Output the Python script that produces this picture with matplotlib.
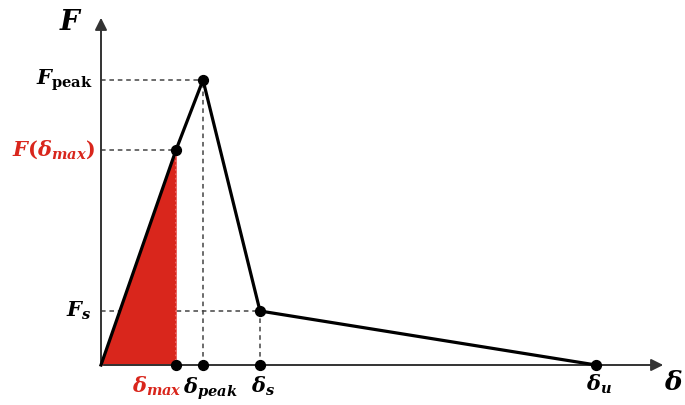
import matplotlib.pyplot as plt

plt.rcParams['mathtext.fontset'] = 'custom'
plt.rcParams['mathtext.it'] = 'DejaVu Serif:italic:bold'
plt.rcParams['mathtext.rm'] = 'DejaVu Serif:bold'
plt.rcParams['mathtext.bf'] = 'DejaVu Serif:bold'

# displacement / force points of the curve (arbitrary units)
delta = [0, 75, 102, 159, 495]
force = [0, 215, 285, 54, 0]
d_max, d_peak, d_s, d_u = delta[1], delta[2], delta[3], delta[4]
f_max, f_peak, f_s = force[1], force[2], force[3]

red = '#d9261c'

fig = plt.figure(figsize=(6.85, 4.05), dpi=100)
ax = fig.add_axes([0, 0, 1, 1])
ax.set_xlim(-101, 584)
ax.set_ylim(-40, 365)
ax.axis('off')

# axes with arrows
ax.annotate('', xy=(565, 0), xytext=(0, 0),
            arrowprops=dict(arrowstyle='-|>', color='#333333', lw=1.4, mutation_scale=18))
ax.annotate('', xy=(0, 350), xytext=(0, 0),
            arrowprops=dict(arrowstyle='-|>', color='#333333', lw=1.4, mutation_scale=18))

# red area up to delta_max
ax.fill([0, d_max, d_max], [0, f_max, 0], color=red, zorder=2)
ax.plot([d_max, d_max], [0, f_max], color='#f07070', ls=':', lw=1.2, zorder=3)

# dashed guides
dash = dict(color='#444444', ls='--', lw=1.1, dashes=(3, 2.5), zorder=1)
ax.plot([0, d_peak], [f_peak, f_peak], **dash)
ax.plot([0, d_max], [f_max, f_max], **dash)
ax.plot([0, d_s], [f_s, f_s], **dash)
ax.plot([d_peak, d_peak], [0, f_peak], **dash)
ax.plot([d_s, d_s], [0, f_s], **dash)

# curve
ax.plot(delta, force, color='black', lw=2.3, zorder=4)
ax.scatter(delta[1:4], force[1:4], s=50, color='black', zorder=5)
ax.scatter([d_max, d_peak, d_s, d_u], [0, 0, 0, 0], s=50, color='black', zorder=5)

# labels
ax.text(-30, 343, r'$F$', fontsize=20, ha='center', va='center')
ax.text(-8, f_peak, r'$F_{\mathrm{peak}}$', fontsize=15, ha='right', va='center')
ax.text(-6, f_max, r'$F(\delta_{max})$', fontsize=15, ha='right', va='center', color=red)
ax.text(-10, f_s, r'$F_{s}$', fontsize=15, ha='right', va='center')
ax.text(d_max + 6, -10, r'$\delta_{max}$', fontsize=15, ha='right', va='top', color=red)
ax.text(d_max + 7, -10, r'$\delta_{peak}$', fontsize=15, ha='left', va='top')
ax.text(d_s + 3, -10, r'$\delta_{s}$', fontsize=15, ha='center', va='top')
ax.text(d_u + 3, -8, r'$\delta_{u}$', fontsize=15, ha='center', va='top')
ax.text(572, -18, r'$\delta$', fontsize=19, ha='center', va='center')

fig.savefig('out.png', dpi=100)
